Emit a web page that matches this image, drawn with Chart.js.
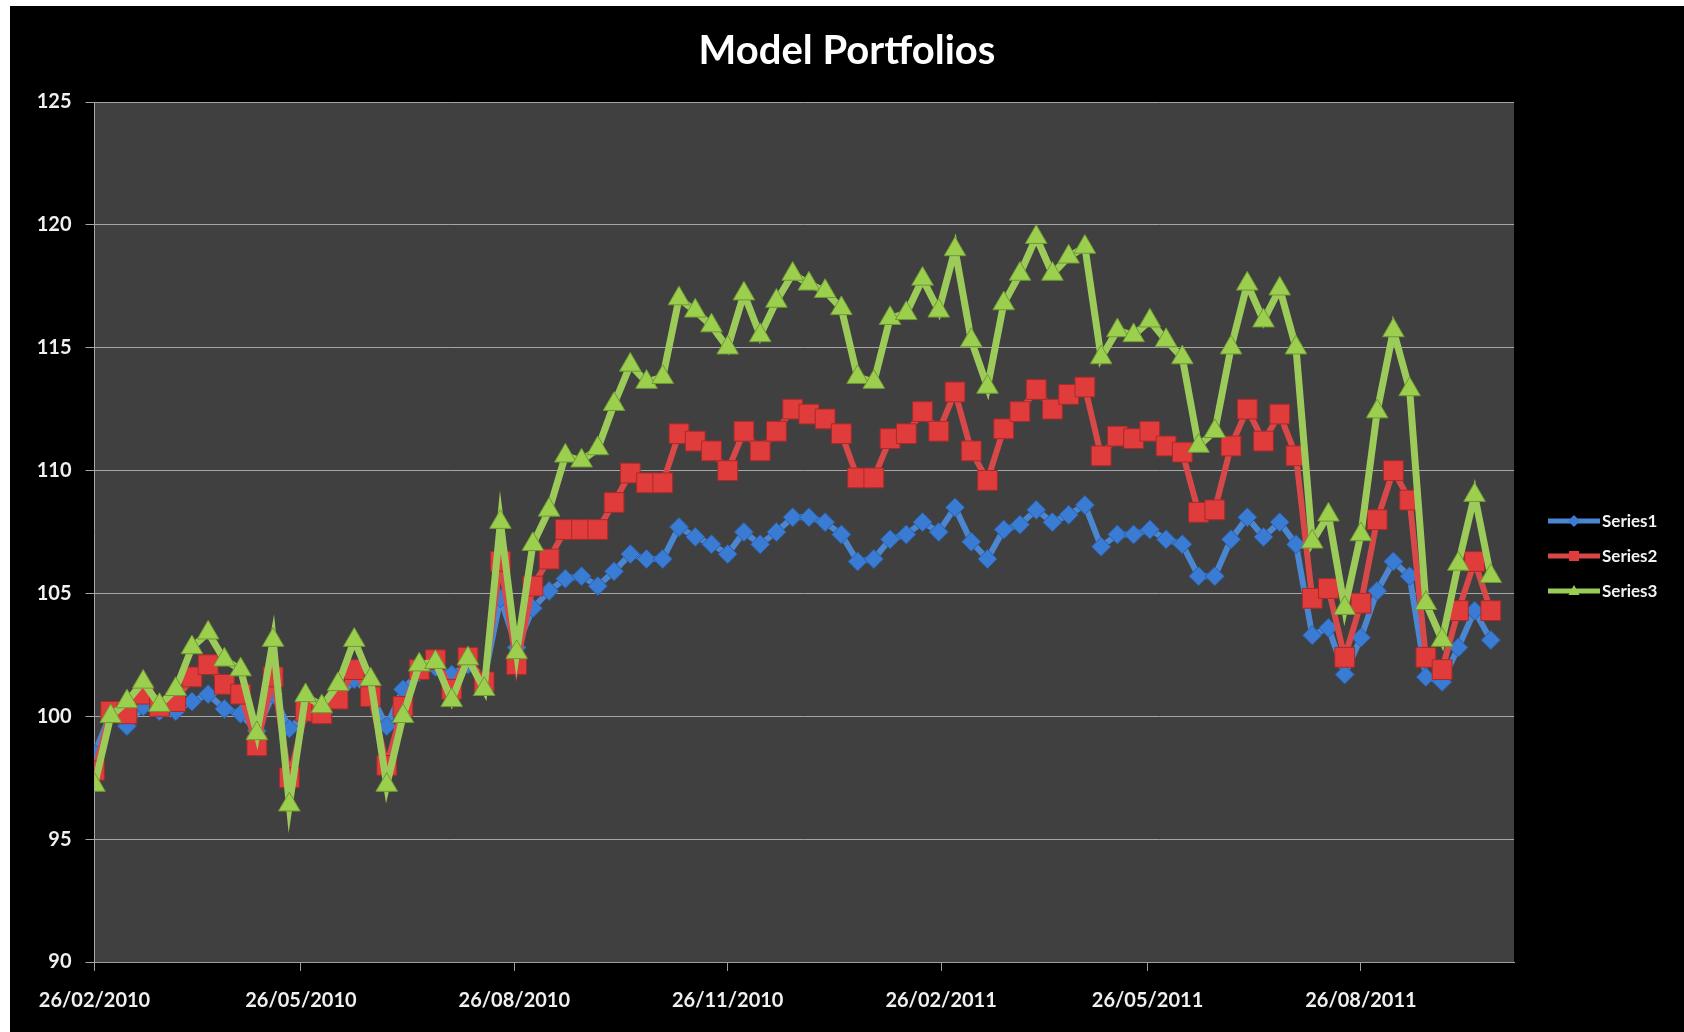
<!DOCTYPE html>
<html>
<head>
<meta charset="utf-8">
<title>Model Portfolios</title>
<script src="https://cdn.jsdelivr.net/npm/chart.js@4/dist/chart.umd.min.js"></script>
<style>
  html, body { margin: 0; padding: 0; background: #ffffff; }
  #wrap { position: absolute; left: 10px; top: 6px; width: 1674px; height: 1026px; }
</style>
</head>
<body>
<div id="wrap"><canvas id="chart"></canvas></div>
<script>
// ================= DATA =================
const weekDates = [
  "26/02/2010","05/03/2010","12/03/2010","19/03/2010","26/03/2010","02/04/2010","09/04/2010","16/04/2010","23/04/2010","30/04/2010",
  "07/05/2010","14/05/2010","21/05/2010","28/05/2010","04/06/2010","11/06/2010","18/06/2010","25/06/2010","02/07/2010","09/07/2010",
  "16/07/2010","23/07/2010","30/07/2010","06/08/2010","13/08/2010","20/08/2010","27/08/2010","03/09/2010","10/09/2010","17/09/2010",
  "24/09/2010","01/10/2010","08/10/2010","15/10/2010","22/10/2010","29/10/2010","05/11/2010","12/11/2010","19/11/2010","26/11/2010",
  "03/12/2010","10/12/2010","17/12/2010","24/12/2010","31/12/2010","07/01/2011","14/01/2011","21/01/2011","28/01/2011","04/02/2011",
  "11/02/2011","18/02/2011","25/02/2011","04/03/2011","11/03/2011","18/03/2011","25/03/2011","01/04/2011","08/04/2011","15/04/2011",
  "22/04/2011","29/04/2011","06/05/2011","13/05/2011","20/05/2011","27/05/2011","03/06/2011","10/06/2011","17/06/2011","24/06/2011",
  "01/07/2011","08/07/2011","15/07/2011","22/07/2011","29/07/2011","05/08/2011","12/08/2011","19/08/2011","26/08/2011","02/09/2011",
  "09/09/2011","16/09/2011","23/09/2011","30/09/2011","07/10/2011","14/10/2011","21/10/2011"
];

const series1 = [
  98.5,100.1,99.6,100.4,100.2,100.2,100.6,100.9,100.3,100.1,
  99.4,100.9,99.5,100.1,100.3,100.7,101.5,100.9,99.6,101.1,
  101.8,102.0,101.7,102.1,101.5,104.8,102.8,104.4,105.1,105.6,
  105.7,105.3,105.9,106.6,106.4,106.4,107.7,107.3,107.0,106.6,
  107.5,107.0,107.5,108.1,108.1,107.9,107.4,106.3,106.4,107.2,
  107.4,107.9,107.5,108.5,107.1,106.4,107.6,107.8,108.4,107.9,
  108.2,108.6,106.9,107.4,107.4,107.6,107.2,107.0,105.7,105.7,
  107.2,108.1,107.3,107.9,107.0,103.3,103.6,101.7,103.2,105.1,
  106.3,105.7,101.6,101.4,102.8,104.3,103.1
];

const series2 = [
  97.8,100.2,100.1,100.9,100.4,100.6,101.6,102.1,101.3,100.9,
  98.8,101.6,97.5,100.2,100.1,100.7,101.9,100.8,98.0,100.4,
  101.9,102.3,101.1,102.4,101.4,106.3,102.1,105.3,106.4,107.6,
  107.6,107.6,108.7,109.9,109.5,109.5,111.5,111.2,110.8,110.0,
  111.6,110.8,111.6,112.5,112.3,112.1,111.5,109.7,109.7,111.3,
  111.5,112.4,111.6,113.2,110.8,109.6,111.7,112.4,113.3,112.5,
  113.1,113.4,110.6,111.4,111.3,111.6,111.0,110.75,108.3,108.4,
  111.0,112.5,111.2,112.3,110.6,104.8,105.2,102.4,104.6,108.0,
  110.0,108.8,102.4,101.9,104.3,106.3,104.3
];

const series3 = [
  97.2,100.0,100.6,101.4,100.45,101.1,102.8,103.4,102.3,101.9,
  99.3,103.1,96.4,100.85,100.4,101.3,103.1,101.5,97.2,100.0,
  102.1,102.2,100.65,102.35,101.1,107.9,102.6,107.0,108.4,110.6,
  110.4,110.9,112.7,114.3,113.6,113.8,117.0,116.5,115.9,115.0,
  117.2,115.5,116.9,118.0,117.6,117.3,116.6,113.8,113.6,116.2,
  116.4,117.8,116.5,119.0,115.3,113.4,116.8,118.0,119.5,118.0,
  118.7,119.1,114.6,115.7,115.5,116.1,115.3,114.6,111.0,111.6,
  115.0,117.6,116.1,117.4,115.0,107.1,108.2,104.4,107.4,112.4,
  115.7,113.3,104.6,103.1,106.2,109.0,105.7
];

const seriesNames = ["Series1", "Series2", "Series3"];
const tickLabels = ["26/02/2010","26/05/2010","26/08/2010","26/11/2010","26/02/2011","26/05/2011","26/08/2011"];

// ================= DATES -> DAY NUMBERS =================
function toDay(s){
  const p = s.split("/");
  return Date.UTC(+p[2], +p[1]-1, +p[0]) / 86400000;
}
const day0 = toDay(weekDates[0]);
const xDays = weekDates.map(d => toDay(d) - day0);
const tickDays = tickLabels.map(d => toDay(d) - day0);

function pairs(values){
  return values.map((v,i) => ({x: xDays[i], y: v}));
}

const FONT = "Lato, 'Open Sans', sans-serif";

// ================= PLUGINS =================
const backdrop = {
  id: "backdrop",
  beforeDraw(chart){
    const {ctx, chartArea:a} = chart;
    ctx.save();
    ctx.fillStyle = "#000000";
    ctx.fillRect(0, 0, chart.width, chart.height);
    ctx.fillStyle = "#404040";
    ctx.fillRect(a.left, a.top, a.right - a.left, a.bottom - a.top);
    ctx.restore();
  }
};

function marker(ctx, style, x, y, r){
  ctx.beginPath();
  if(style === "rect"){
    ctx.rect(x - r, y - r, 2*r, 2*r);
  } else if(style === "rectRot"){
    ctx.moveTo(x, y - r*1.2); ctx.lineTo(x + r*1.2, y); ctx.lineTo(x, y + r*1.2); ctx.lineTo(x - r*1.2, y);
  } else {
    ctx.moveTo(x, y - r*1.2); ctx.lineTo(x + r*1.1, y + r*0.8); ctx.lineTo(x - r*1.1, y + r*0.8);
  }
  ctx.closePath();
  ctx.fill();
}

const sideLegend = {
  id: "sideLegend",
  afterDraw(chart){
    const {ctx, chartArea:a} = chart;
    ctx.save();
    chart.data.datasets.forEach((ds, i) => {
      const y = 515 + i*35;
      const x0 = a.right + 34;
      ctx.strokeStyle = ds.borderColor;
      ctx.lineWidth = 5;
      ctx.beginPath();
      ctx.moveTo(x0, y);
      ctx.lineTo(x0 + 52, y);
      ctx.stroke();
      ctx.fillStyle = ds.pointBackgroundColor;
      marker(ctx, ds.pointStyle, x0 + 26, y, 5);
      ctx.fillStyle = "#f2f2f2";
      ctx.font = "bold 17px " + FONT;
      ctx.textBaseline = "middle";
      ctx.fillText(ds.label, x0 + 54, y + 1);
    });
    ctx.restore();
  }
};

// ================= CHART =================
const datasets = [
  {label: seriesNames[0], data: pairs(series1), borderColor: "#4a86d2", borderWidth: 6,
   pointStyle: "rectRot", pointRadius: 9.5, pointBackgroundColor: "#3a7cd4", pointBorderColor: "#2a5fa8", pointBorderWidth: 1, order: 3},
  {label: seriesNames[1], data: pairs(series2), borderColor: "#d84848", borderWidth: 6,
   pointStyle: "rect", pointRadius: 14, pointBackgroundColor: "#e03c3c", pointBorderColor: "#a82a2a", pointBorderWidth: 1, order: 2},
  {label: seriesNames[2], data: pairs(series3), borderColor: "#9dcb5a", borderWidth: 7,
   pointStyle: "triangle", pointRadius: 12.5, pointBackgroundColor: "#9ccf4e", pointBorderColor: "#6e9a34", pointBorderWidth: 1, order: 1}
];

new Chart(document.getElementById("chart"), {
  type: "line",
  data: {datasets: datasets},
  options: {
    responsive: true,
    maintainAspectRatio: false,
    animation: false,
    layout: {padding: 0},
    elements: {line: {tension: 0}},
    plugins: {
      legend: {display: false},
      tooltip: {enabled: false},
      title: {
        display: true,
        text: "Model Portfolios",
        color: "#ffffff",
        font: {family: FONT, size: 40, weight: "bold"},
        padding: {top: 21, bottom: 27}
      }
    },
    scales: {
      x: {
        type: "linear",
        min: 0,
        max: 612,
        afterFit(scale){ scale.height = 70; },
        afterBuildTicks(scale){ scale.ticks = tickDays.map(v => ({value: v})); },
        grid: {display: true, drawOnChartArea: false, drawTicks: true, tickLength: 9, color: "#a0a0a0"},
        border: {display: true, color: "#a0a0a0", width: 1},
        ticks: {
          autoSkip: false,
          maxRotation: 0,
          padding: 18,
          color: "#f0f0f0",
          font: {family: FONT, size: 20, weight: "bold"},
          callback: v => tickLabels[tickDays.indexOf(v)]
        }
      },
      y: {
        min: 90,
        max: 125,
        afterFit(scale){ scale.width = 84.5; },
        grid: {color: "#a6a6a6", lineWidth: 1, tickLength: 9},
        border: {display: true, color: "#a6a6a6", width: 1},
        ticks: {
          stepSize: 5,
          padding: 14,
          color: "#f0f0f0",
          font: {family: FONT, size: 20, weight: "bold"}
        }
      },
      legendSpace: {
        type: "linear",
        position: "right",
        display: true,
        afterFit(scale){ scale.width = 170; },
        grid: {display: false, drawTicks: false},
        border: {display: false},
        ticks: {display: false}
      }
    }
  },
  plugins: [backdrop, sideLegend]
});
</script>
</body>
</html>
